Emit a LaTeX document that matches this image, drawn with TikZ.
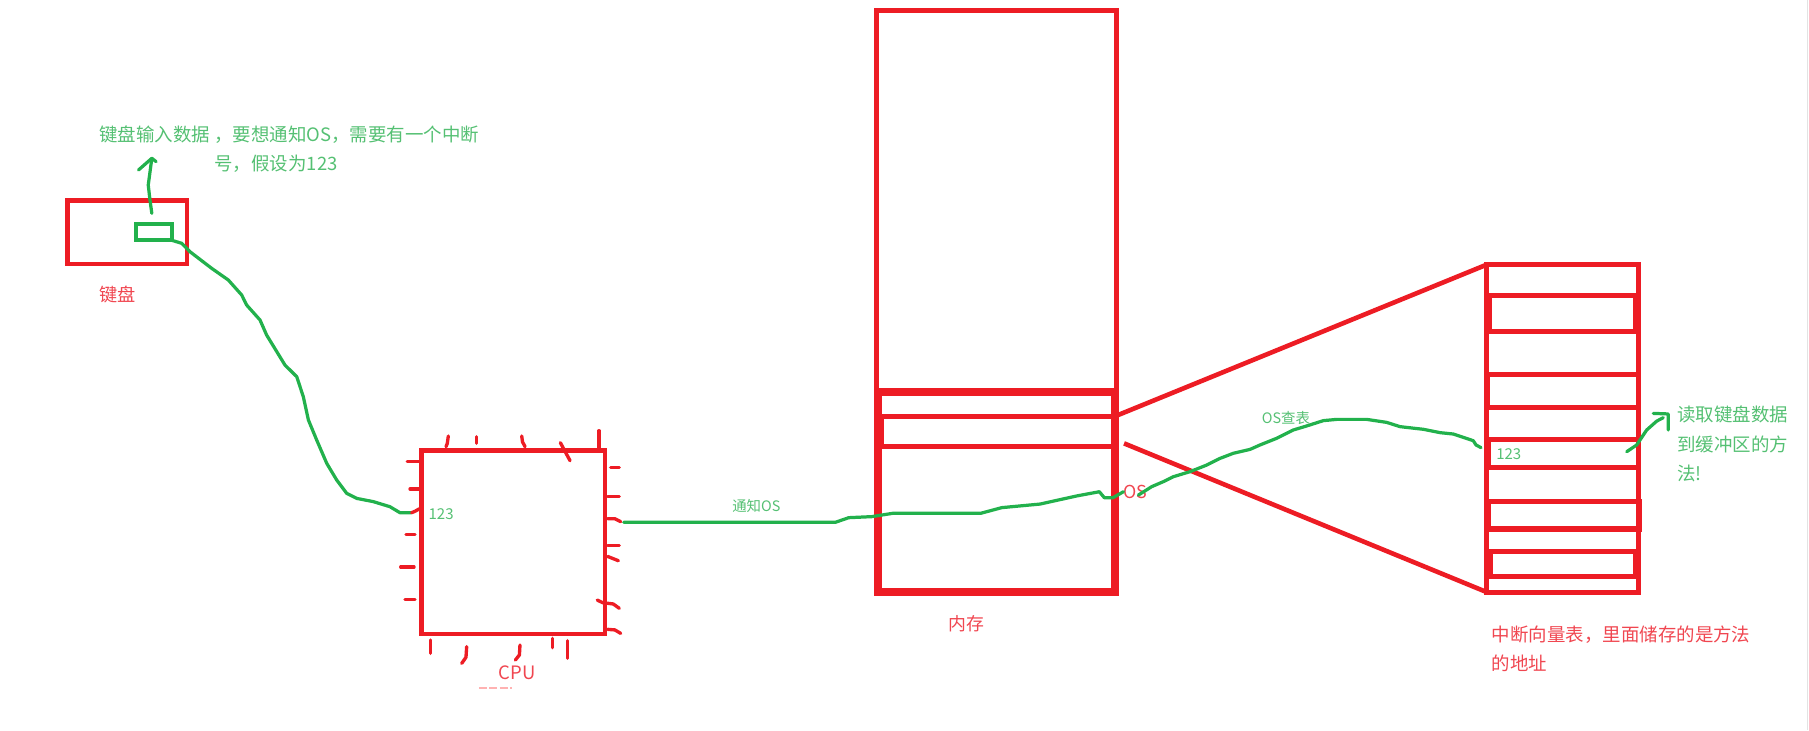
\documentclass[tikz,border=0pt]{standalone}
\usepackage{fontspec}
\setmainfont{Noto Sans CJK SC}
\definecolor{lred}{RGB}{237,28,36}
\definecolor{lgreen}{RGB}{34,177,76}
\definecolor{tred}{RGB}{240,70,80}
\definecolor{tgreen}{RGB}{85,192,115}
\begin{document}
\begin{tikzpicture}[x=1pt,y=-1pt,
  rbox/.style={draw=lred, rectangle, inner sep=0pt, outer sep=0pt},
  gbox/.style={draw=lgreen, rectangle, inner sep=0pt, outer sep=0pt},
  pin/.style={draw=lred, line width=2.9, line cap=round, line join=round},
  wire/.style={draw=lgreen, line width=2.8, line cap=round, line join=round},
  fun/.style={draw=lred, line width=4},
  gtext/.style={text=tgreen, inner sep=0pt, anchor=west},
  rtext/.style={text=tred, inner sep=0pt, anchor=west},
  fs/.style={font=\fontsize{#1}{#1}\selectfont}]
\useasboundingbox (0,0) rectangle (1568,633);
\draw[gray!22, line width=1] (1566.5,0) -- (1566.5,633);

% keyboard
\node[rbox, line width=3.8, minimum width=103.5, minimum height=54.9] (kbd) at (110.35,201.25) {};
\node[gbox, line width=3.5, minimum width=30.7, minimum height=14.5] (key) at (133.5,201) {};
\coordinate (keyup) at (131.6,184.9);
\coordinate (keytip) at (131.6,137.2);
\draw[wire] (keyup) -- (130,173.4) -- (128.5,160.4) -- (keytip);
\draw[wire] (120.1,147.3) -- (keytip) -- (135.3,140.1);
\node[gtext, fs=16] (note1) at (86,117) {键盘输入数据 ，要想通知OS，需要有一个中断};
\node[gtext, fs=16] (note2) at (185.7,142.2) {号，假设为123};
\node[rtext, fs=15.8] (kbdlabel) at (86,255.7) {键盘};

% CPU
\node[rbox, line width=4, minimum width=159, minimum height=159] (cpu) at (445,470) {};
% pins left
\draw[pin] (353,400.2)--(363.5,400.2);
\draw[pin] (355.4,423.9)--(363.5,423.9);
\draw[pin] (351.9,463.1)--(359.7,463.1);
\draw[pin] (347.3,491.5)--(358.9,491.5);
\draw[pin] (351,519.5)--(359.7,519.5);
% pins top
\draw[pin] (388.6,377.9)--(387.7,384.3)--(386.6,387.2);
\draw[pin] (413.2,378.5)--(413.2,384.2);
\draw[pin] (452.2,377.9)--(452.9,383)--(455.1,387.2);
\draw[pin] (485.7,383.7)--(494.1,399.3);
\draw[pin] (519.2,373.3)--(519.2,388.6);
% pins right
\draw[pin] (529.3,405.4)--(536.8,405.4);
\draw[pin] (526.7,430.5)--(536.8,430.5);
\draw[pin] (526.7,449.6)--(533,449.6)--(538,452.2);
\draw[pin] (526.7,472.7)--(536.8,472.7);
\draw[pin] (526.7,482.3)--(536,486);
\draw[pin] (517.7,520.1)--(522.4,522.4)--(531.6,523.5)--(536.8,527.3);
\draw[pin] (526.7,545.5)--(533,546)--(538,549);
% pins bottom
\draw[pin] (373.3,554.7)--(373.3,566.3);
\draw[pin] (404.5,560.5)--(403.9,569.7)--(400.2,575);
\draw[pin] (450.7,559.1)--(450.2,567.7)--(446.7,572.1);
\draw[pin] (478.7,553.3)--(478.7,561.4);
\draw[pin] (492,555.3)--(492,570.6);
\node[gtext, fs=13] (cpunum) at (371.3,445.8) {123};
\node[rtext, fs=16] (cpulabel) at (432,582.8) {CPU};
\draw[red!30, line width=1.2, dash pattern=on 7pt off 2pt] (415,596.3)--(444,596.3);

% keyboard -> CPU wire
\coordinate (cpuin) at (356.8,444.4);
\draw[wire] (key.south east) -- (157.5,210.9) -- (164.7,218.2) -- (183.5,232.6) -- (197.9,242.7)
  -- (209.5,255.7) -- (213.8,264.4) -- (225.4,277.4) -- (231.1,290.4) -- (247,316.4)
  -- (257.2,326.5) -- (262.9,343.8) -- (267.3,364) -- (274.5,381.4) -- (283.2,401.6)
  -- (291.8,416) -- (300.5,427.6) -- (309.2,432) -- (323.6,434.8) -- (338,439.2)
  -- (346.7,444.4) -- (cpuin);
\draw[pin] (cpuin)--(360,443)--(363.5,441);

% memory
\node[rbox, line width=6.8, minimum width=205.6, minimum height=173.5] (memlow) at (863.8,426.55) {};
\node[rbox, line width=4.3, minimum width=208.3, minimum height=330.7] (memtop) at (863.85,174.45) {};
\node[rbox, line width=4.2, minimum width=202, minimum height=25.8] (memos) at (865,373.9) {};
\node[rtext, fs=15.5] (memlabel) at (822,540.3) {内存};
\node[rtext, fs=15.5] (oslabel) at (973.8,426.2) {OS};

% CPU -> OS wire
\coordinate (cpuout) at (540.6,452.7);
\draw[wire] (cpuout) -- (724.1,452.7) -- (735.7,448.7) -- (755.6,447.8) -- (773.9,444.9)
  -- (850.1,444.9) -- (868.3,440) -- (901.5,436.9) -- (933.1,429.9) -- (952.9,426.2)
  -- (957.2,431.4) -- (964.6,431.4) -- (oslabel.west);
\node[gtext, fs=12.5] (notify) at (634.5,438.6) {通知OS};

% interrupt vector table
\node[rbox, line width=4.2, minimum width=131.4, minimum height=283.8] (tbl) at (1354.3,371.3) {};
\node[rbox, line width=4.5, minimum width=126.7, minimum height=31.1] (r2) at (1354.35,271.65) {};
\node[rbox, line width=4.5, minimum width=130.5, minimum height=28.8] (r4) at (1354.75,338.8) {};
\node[rbox, line width=4.5, minimum width=129.8, minimum height=24.2] (r6) at (1355.1,392.9) {};
\node[rbox, line width=4.8, minimum width=130.8, minimum height=24.2] (r8) at (1355.6,446.6) {};
\node[rbox, line width=4.5, minimum width=125.5, minimum height=21.7] (r10) at (1354.95,488.65) {};
\node[gtext, fs=13] (tblnum) at (1296.7,393.5) {123};

% funnel
\coordinate (oslow) at (974.3,384.3);
\draw[fun] (memos.north east) -- (tbl.north west);
\draw[fun] (oslow) -- (tbl.south west);

% OS -> table wire
\coordinate (osout) at (986.7,429.1);
\coordinate (tblin) at (1283.7,388);
\draw[wire] (osout) -- (998.3,421.8) -- (1008.3,417.5) -- (1017,413.2) -- (1031.5,408.8)
  -- (1045.9,403.1) -- (1057.5,397.3) -- (1069,392.9) -- (1083.5,389.5) -- (1092.1,385.7)
  -- (1106.6,379.9) -- (1121,372.7) -- (1132.6,369.2) -- (1147,364.6) -- (1158.6,363.5)
  -- (1184.6,363.5) -- (1201.9,366.1) -- (1213.5,369.8) -- (1233.7,372.1) -- (1248.2,375)
  -- (1259.7,376.2) -- (1268.4,379.1) -- (1277,382) -- (1279.4,385.7) -- (tblin);
\node[gtext, fs=12.5] (lookup) at (1093.6,362.6) {OS查表};

% method arrow
\coordinate (mstart) at (1410,391.5);
\coordinate (mtip) at (1446,358.8);
\draw[wire] (mstart) -- (1418.6,385.7) -- (1427.3,372.7) -- (1436,365) -- (1441.7,362);
\draw[wire] (1433,358.3) -- (mtip) -- (1446,372.7);
\node[gtext, fs=16] (m1) at (1453.8,358.8) {读取键盘数据};
\node[gtext, fs=16] (m2) at (1453.8,384.9) {到缓冲区的方};
\node[gtext, fs=16] (m3) at (1453.8,410.3) {法!};

\node[rtext, fs=16] (t1) at (1293,550.4) {中断向量表，里面储存的是方法};
\node[rtext, fs=16] (t2) at (1293,575) {的地址};
\end{tikzpicture}
\end{document}
